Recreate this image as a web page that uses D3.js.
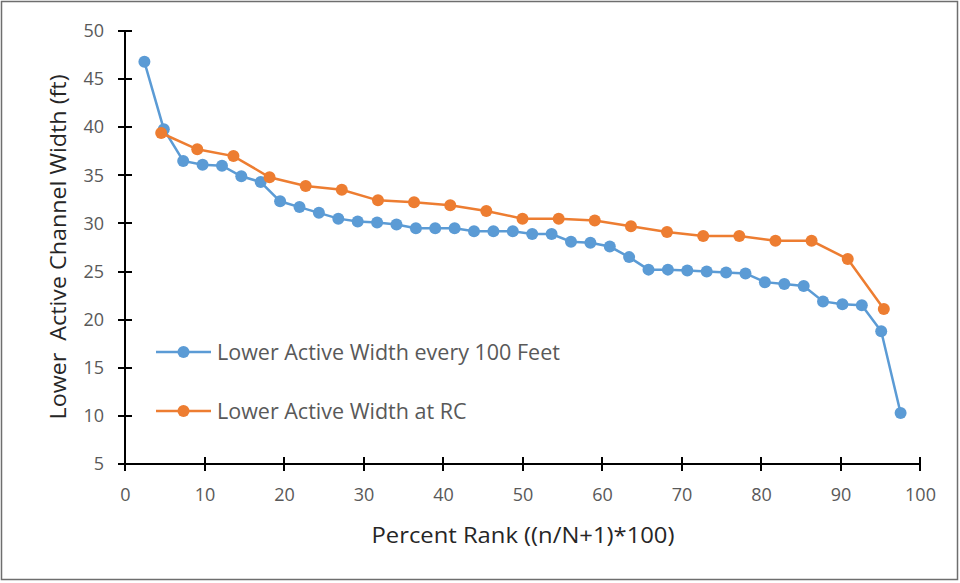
<!DOCTYPE html>
<html><head><meta charset="utf-8">
<script src="https://cdn.jsdelivr.net/npm/d3@7"></script>
<style>
html,body{margin:0;padding:0;background:#fff;}
text{font-family:"Open Sans",sans-serif;}
</style></head>
<body><svg id="c" width="960" height="583"></svg>
<script>
// ---- data ----
const xTicks = [0,10,20,30,40,50,60,70,80,90,100];
const yTicks = [5,10,15,20,25,30,35,40,45,50];
const blueRank = [2.44,4.88,7.32,9.76,12.20,14.63,17.07,19.51,21.95,24.39,26.83,29.27,31.71,34.15,36.59,39.02,41.46,43.90,46.34,48.78,51.22,53.66,56.10,58.54,60.98,63.41,65.85,68.29,70.73,73.17,75.61,78.05,80.49,82.93,85.37,87.80,90.24,92.68,95.12,97.56];
const blueWidth = [46.8,39.8,36.5,36.1,36.0,34.9,34.3,32.3,31.7,31.1,30.5,30.2,30.1,29.9,29.5,29.5,29.5,29.2,29.2,29.2,28.9,28.9,28.1,28.0,27.6,26.5,25.2,25.2,25.1,25.0,24.9,24.8,23.9,23.7,23.5,21.9,21.6,21.5,18.8,10.3];
const orangeRank = [4.55,9.09,13.64,18.18,22.73,27.27,31.82,36.36,40.91,45.45,50.00,54.55,59.09,63.64,68.18,72.73,77.27,81.82,86.36,90.91,95.45];
const orangeWidth = [39.4,37.7,37.0,34.8,33.9,33.5,32.4,32.2,31.9,31.3,30.5,30.5,30.3,29.7,29.1,28.7,28.7,28.2,28.2,26.3,21.1];
const seriesNames = ["Lower Active Width every 100 Feet","Lower Active Width at RC"];
const seriesColors = ["#5B9BD5","#ED7D31"];
const xTitle = "Percent Rank ((n/N+1)*100)";
const yTitle = "Lower  Active Channel Width (ft)";

const svg = d3.select("#c");
svg.append("rect").attr("x",1.5).attr("y",1.5).attr("width",956).attr("height",578)
  .attr("fill","#fff").attr("stroke","#6e6e6e").attr("stroke-width",1.5);

const x = d3.scaleLinear().domain([0,100]).range([125,920]);
const y = d3.scaleLinear().domain([5,50]).range([464,31]);

// x axis labels via d3 axis
const gx = svg.append("g").attr("transform","translate(0,464)")
  .call(d3.axisBottom(x).tickValues(xTicks).tickSize(0).tickPadding(24));
gx.select(".domain").remove();
gx.selectAll(".tick line").remove();
gx.selectAll(".tick text").attr("fill","#595959").style("font-size","18px").style("font-family","'Open Sans',sans-serif");

const gy = svg.append("g").attr("transform","translate(125,0)")
  .call(d3.axisLeft(y).tickValues(yTicks).tickSize(0).tickPadding(21));
gy.select(".domain").remove();
gy.selectAll(".tick line").remove();
gy.selectAll(".tick text").attr("fill","#595959").style("font-size","18px").style("font-family","'Open Sans',sans-serif");

// axis lines and crossing ticks
const axG = svg.append("g");
axG.selectAll(".xt").data(xTicks).join("rect").attr("class","xt")
  .attr("x",d=>Math.round(x(d))-1).attr("width",2).attr("y",y(5)-7).attr("height",14).attr("fill","#000");
axG.selectAll(".yt").data(yTicks).join("rect").attr("class","yt")
  .attr("y",d=>Math.round(y(d))-1).attr("height",2).attr("x",x(0)-7).attr("width",14).attr("fill","#000");
axG.append("rect").attr("x",x(0)).attr("width",x(100)-x(0)).attr("y",y(5)-1).attr("height",2).attr("fill","#000");
axG.append("rect").attr("x",x(0)-1).attr("width",2).attr("y",y(50)).attr("height",y(5)-y(50)).attr("fill","#000");

// titles
svg.append("text").attr("x",523).attr("y",543).attr("text-anchor","middle")
  .attr("fill","#262626").style("font-size","22px").attr("textLength",303).attr("lengthAdjust","spacingAndGlyphs").text(xTitle);
svg.append("text").attr("transform","translate(66,247) rotate(-90)").attr("text-anchor","middle")
  .attr("fill","#262626").style("font-size","22px").style("white-space","pre")
  .attr("textLength",345).attr("lengthAdjust","spacingAndGlyphs").text(yTitle);

// series
const series = [
  {rank: blueRank, width: blueWidth, color: seriesColors[0]},
  {rank: orangeRank, width: orangeWidth, color: seriesColors[1]}
];
const line = d3.line().x(d=>x(d[0])).y(d=>y(d[1]));
series.forEach(s=>{
  const pts = s.rank.map((r,i)=>[r,s.width[i]]);
  svg.append("path").datum(pts).attr("d",line).attr("fill","none")
    .attr("stroke",s.color).attr("stroke-width",2.5);
  svg.append("g").selectAll("circle").data(pts).join("circle")
    .attr("cx",d=>x(d[0])).attr("cy",d=>y(d[1])).attr("r",6).attr("fill",s.color);
});

// legend
const legY = [352, 411];
seriesNames.forEach((n,i)=>{
  const g = svg.append("g");
  g.append("line").attr("x1",156).attr("x2",211).attr("y1",legY[i]).attr("y2",legY[i])
    .attr("stroke",seriesColors[i]).attr("stroke-width",2.5);
  g.append("circle").attr("cx",183.5).attr("cy",legY[i]).attr("r",6).attr("fill",seriesColors[i]);
  g.append("text").attr("x",217).attr("y",legY[i]).attr("dy","0.35em").attr("fill","#595959")
    .style("font-size","21.5px").text(n);
});
</script></body></html>
